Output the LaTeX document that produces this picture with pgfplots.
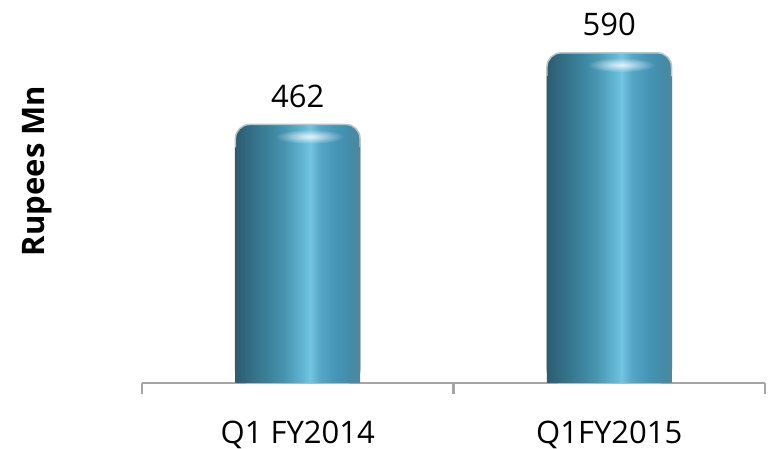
\documentclass[border=0pt]{standalone}
\usepackage{pgfplots}
\usepackage{pgfplotstable}
\pgfplotsset{compat=1.18}
\usepackage{fontspec}
\setmainfont{Open Sans}
\usetikzlibrary{fadings}

\newcommand\chartfont{\fontsize{31}{37}\selectfont}

\definecolor{axisgray}{RGB}{165,165,165}
\definecolor{barline}{RGB}{190,196,198}
\definecolor{s0}{RGB}{44,92,112}
\definecolor{s1}{RGB}{48,104,127}
\definecolor{s2}{RGB}{58,128,153}
\definecolor{s3}{RGB}{72,150,178}
\definecolor{s4}{RGB}{100,184,214}
\definecolor{s5}{RGB}{114,196,226}
\definecolor{s6}{RGB}{86,166,199}
\definecolor{s7}{RGB}{70,150,184}
\definecolor{s8}{RGB}{68,139,168}
\definecolor{s9}{RGB}{78,136,158}

% left-to-right cylinder shading for the bars
\pgfdeclarehorizontalshading{cylinder}{100bp}{
  color(0bp)=(s0); color(25bp)=(s0); color(29bp)=(s1); color(37.5bp)=(s2);
  color(45bp)=(s3); color(52.5bp)=(s4); color(55bp)=(s5); color(59bp)=(s6);
  color(65bp)=(s7); color(71bp)=(s8); color(75bp)=(s9); color(100bp)=(s9)}

\tikzfading[name=glowfade, inner color=transparent!0, outer color=transparent!100]

% soft highlight just under the rounded top of each bar
\pgfdeclareplotmark{capglow}{%
  \fill[white, path fading=glowfade, opacity=0.8] (0pt,0pt) ellipse (34pt and 7pt);}

\pgfplotstableread{
x  revenue
0  462
1  590
}\revdata

\pgfplotsset{
  cyl/.style={ybar, bar width=0.4, bar shift=0pt, shading=cylinder},
  cyltop/.style={cyl, draw=barline, line width=1.5pt, rounded corners=14pt},
  cylbody/.style={cyl, draw=none},
}

\begin{document}
\begin{tikzpicture}
\path[use as bounding box] (-142pt,-66pt) rectangle (631pt,383pt);
\begin{axis}[
  at={(0pt,0pt)}, anchor=south west,
  scale only axis, width=623pt, height=363.7pt,
  xmin=-0.5, xmax=1.5, ymin=0, ymax=650,
  clip=false,
  hide y axis,
  axis x line*=bottom,
  axis line style={axisgray, line width=2.2pt},
  xtick={-0.5,0.5,1.5}, xticklabels={},
  major tick length=11pt,
  tick align=outside,
  xtick style={axisgray, line width=2.2pt},
  extra x ticks={0,1},
  extra x tick labels={Q1 FY2014, Q1FY2015},
  extra x tick style={major tick length=0pt},
  xticklabel style={font=\chartfont, anchor=base, yshift=-60pt, inner sep=0pt},
  /pgf/number format/assume math mode=true,
]
% each bar is drawn on its own so the shading spans one bar only;
% a square-cornered body covers the rounded base of the capped bar
\addplot[cyltop]  coordinates {(0,462)};
\addplot[cylbody] coordinates {(0,420)};
\addplot[cyltop]  coordinates {(1,590)};
\addplot[cylbody] coordinates {(1,548)};
\addplot[only marks, mark=capglow, mark options={xshift=12pt, yshift=-12pt}]
  table[x=x, y=revenue] {\revdata};
\addplot[ybar, bar width=0.4, bar shift=0pt, draw=none, fill=none,
  nodes near coords,
  every node near coord/.append style={font=\chartfont, anchor=base,
    yshift=17pt, inner sep=0pt, text=black}]
  table[x=x, y=revenue] {\revdata};
\node[rotate=90, font=\chartfont\bfseries, anchor=center]
  at (axis description cs:-0.168,0.583) {Rupees Mn};
\end{axis}
\end{tikzpicture}
\end{document}
